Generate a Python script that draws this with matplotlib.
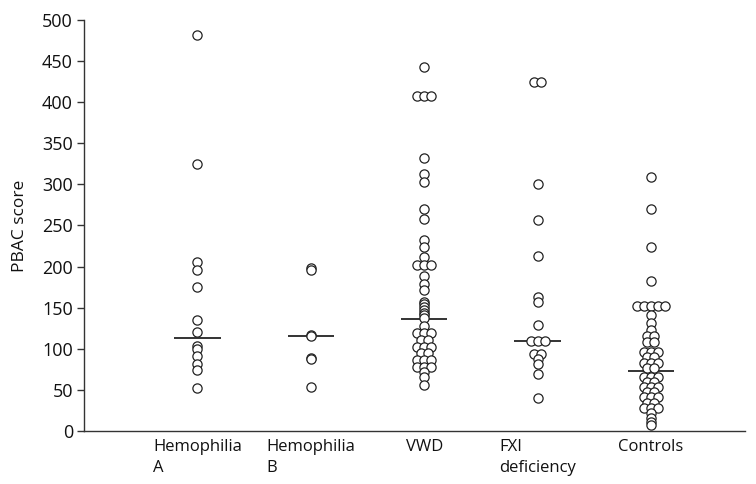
import matplotlib
matplotlib.use("Agg")
import matplotlib.pyplot as plt
import numpy as np
from collections import Counter

# PBAC scores, one list per group
groups = ["Hemophilia\nA", "Hemophilia\nB", "VWD", "FXI\ndeficiency", "Controls"]

hemophilia_a = [482, 325, 205, 196, 175, 135, 121, 103, 100, 91, 82, 74, 52]
hemophilia_b = [198, 196, 117, 115, 89, 87, 54]
vwd = [443, 407, 407, 407, 332, 313, 303, 270, 258, 232, 224, 212,
       202, 202, 202, 188, 179, 171, 157, 154, 151, 147, 144, 141, 138, 128,
       119, 119, 119, 111, 111, 102, 102, 102, 95, 95, 86, 86, 86,
       78, 78, 78, 72, 66, 56]
fxi = [424, 424, 300, 257, 213, 163, 157, 129, 110, 110, 110,
       94, 94, 88, 81, 69, 40]
controls = [309, 270, 224, 182, 152, 152, 152, 152, 152, 141, 131, 123,
            115, 115, 108, 108, 96, 96, 96, 90, 90, 83, 83, 83, 77, 77,
            66, 66, 66, 60, 60, 54, 54, 54, 48, 48, 41, 41, 41, 34, 34,
            28, 28, 28, 22, 16, 11, 7]
medians = [113, 115, 136, 109, 73]

yticks = list(range(0, 501, 50))

FONT = ["Open Sans", "DejaVu Sans"]
EDGE = "#222222"


def spread(ax, x, values, step_px=7):
    # equal values sit side by side, step_px apart on screen
    counts = Counter(values)
    seen = Counter()
    x_px = ax.transData.transform((x, 0))[0]
    xs = []
    for v in values:
        n = counts[v]
        i = seen[v]
        seen[v] += 1
        dx = (i - (n - 1) / 2) * step_px
        xs.append(ax.transData.inverted().transform((x_px + dx, 0))[0])
    return xs


def main():
    plt.rcParams["font.family"] = FONT
    fig = plt.figure(figsize=(7.56, 4.84), dpi=100)
    ax = fig.add_axes([84 / 756, 53 / 484, 661 / 756, 411 / 484])
    ax.set_xlim(0, 5.83)
    ax.set_ylim(0, 500)

    data = [hemophilia_a, hemophilia_b, vwd, fxi, controls]
    for k, (values, med) in enumerate(zip(data, medians)):
        x = k + 1
        xs = spread(ax, x, values)
        ax.scatter(xs, values, s=44, facecolor="white", edgecolor=EDGE,
                   linewidth=0.9, zorder=3, clip_on=False)
        ax.hlines(med, x - 0.205, x + 0.205, color="#111111",
                  linewidth=1.2, zorder=2)

    ax.set_xticks(range(1, len(groups) + 1))
    ax.set_xticklabels(groups, fontsize=12, multialignment="left",
                       linespacing=1.35, color="#111111")
    ax.tick_params(axis="x", length=0, pad=6)
    ax.set_yticks(yticks)
    ax.tick_params(axis="y", direction="out", length=5, width=1.0,
                   labelsize=13, pad=3, color="#333333", labelcolor="#111111")
    ax.set_ylabel("PBAC score", fontsize=12.5, color="#111111")
    ax.yaxis.set_label_coords(-0.085, 0.5)

    for side in ("top", "right"):
        ax.spines[side].set_visible(False)
    for side in ("left", "bottom"):
        ax.spines[side].set_color("#333333")
        ax.spines[side].set_linewidth(1.0)

    fig.savefig("out.png", dpi=100)


if __name__ == "__main__":
    main()
